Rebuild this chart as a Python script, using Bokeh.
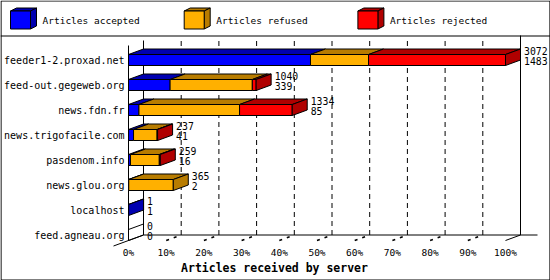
from bokeh.plotting import figure
from bokeh.models import Range1d, ColumnDataSource, LinearAxis, FixedTicker
from bokeh.core.properties import value
from bokeh.embed import file_html
from bokeh.resources import INLINE

# ---------------- data ----------------
servers = ["feeder1-2.proxad.net", "feed-out.gegeweb.org", "news.fdn.fr",
           "news.trigofacile.com", "pasdenom.info", "news.glou.org",
           "localhost", "feed.agneau.org"]
received = [3072, 1040, 1334, 237, 259, 365, 1, 0]
accepted = [1483, 339, 85, 41, 16, 2, 1, 0]
refused = [473, 670, 820, 192, 235, 363, 0, 0]
rejected = [1116, 31, 429, 4, 8, 0, 0, 0]
series_names = ["Articles accepted", "Articles refused", "Articles rejected"]
x_ticks = [0, 10, 20, 30, 40, 50, 60, 70, 80, 90, 100]
x_tick_labels = ["0%", "10%", "20%", "30%", "40%", "50%", "60%", "70%", "80%", "90%", "100%"]
x_title = "Articles received by server"

# ---------------- style ----------------
FACE = ["#0000FF", "#FFB000", "#FF0000"]
SHADE = ["#0000B0", "#B87C00", "#B00000"]
FONT = "DejaVu Sans Mono"
W, H = 550, 280
X0PX, PXPCT, Y0PX, ROWPX = 128.0, 3.77, 59.5, 25.0


def dxp(px):
    return px / PXPCT


def dyp(px):
    return px / ROWPX


def X(px):
    return (px - X0PX) / PXPCT


def Y(px):
    return (px - Y0PX) / ROWPX


DX = dxp(15)        # depth to the right
DY = -dyp(5.5)      # depth upward
HALF = dyp(5.5)     # half bar height
n = len(servers)
floor_front = (n - 1) + HALF
floor_back = floor_front + DY

p = figure(width=W, height=H, x_range=Range1d(X(0), X(W)), y_range=Range1d(Y(H), Y(0)),
           x_axis_location=None, y_axis_location=None, output_backend="svg",
           toolbar_location=None, min_border=0)
p.grid.visible = False
p.outline_line_color = None
p.background_fill_color = "white"
p.border_fill_color = "white"

# ---------------- axes (inside the frame) ----------------
xaxis = LinearAxis(ticker=FixedTicker(ticks=x_ticks),
                   major_label_overrides={t: s for t, s in zip(x_ticks, x_tick_labels)},
                   fixed_location=floor_front)
xaxis.axis_line_color = None
xaxis.major_tick_line_color = None
xaxis.minor_tick_line_color = None
xaxis.major_tick_in = 0
xaxis.major_tick_out = 0
xaxis.major_label_standoff = 6
xaxis.major_label_text_font = FONT
xaxis.major_label_text_font_size = "9.5px"
xaxis.major_label_text_color = "black"
p.add_layout(xaxis, "below")

yaxis = LinearAxis(ticker=FixedTicker(ticks=list(range(n))),
                   major_label_overrides={i: s for i, s in enumerate(servers)},
                   fixed_location=0)
yaxis.axis_line_color = None
yaxis.major_tick_line_color = None
yaxis.minor_tick_line_color = None
yaxis.major_tick_in = 0
yaxis.major_tick_out = 0
yaxis.major_label_standoff = 4
yaxis.major_label_text_font = FONT
yaxis.major_label_text_font_size = "10px"
yaxis.major_label_text_color = "black"
p.add_layout(yaxis, "left")

# ---------------- grid & frame lines ----------------
inner = x_ticks[1:-1]
p.segment(x0=[t + DX for t in inner], y0=[floor_back] * len(inner),
          x1=[t + DX for t in inner], y1=[Y(40)] * len(inner),
          line_color="black", line_width=1, line_dash="5 4")
# floor back line
p.segment(x0=[DX], y0=[floor_back], x1=[X(537)], y1=[floor_back], line_color="black", line_width=1)
# floor left diagonal
p.segment(x0=[-DX], y0=[floor_front - DY], x1=[DX], y1=[floor_back], line_color="black", line_width=1)
# tick diagonals
p.segment(x0=inner, y0=[floor_front] * len(inner), x1=[t + DX for t in inner],
          y1=[floor_back] * len(inner), line_color="black", line_width=1.5, line_dash="3 5")
p.segment(x0=[x_ticks[-1]], y0=[floor_front], x1=[x_ticks[-1] + DX], y1=[floor_back],
          line_color="black", line_width=1)
# vertical axis lines
p.segment(x0=[0, DX, x_ticks[-1] + DX], y0=[Y(45), Y(40), Y(35)],
          x1=[0, DX, x_ticks[-1] + DX], y1=[floor_front, floor_back, floor_back],
          line_color="black", line_width=1)

# ---------------- bars ----------------
vmax = max(received)
fr = dict(left=[], right=[], top=[], bottom=[], color=[])
tops = dict(xs=[], ys=[], color=[])
sides = dict(xs=[], ys=[], color=[], alpha=[])
for i in range(n):
    c = i
    yt, yb = c - HALF, c + HALF
    cum = 0.0
    last = None
    for k, vals in enumerate([accepted, refused, rejected]):
        w = vals[i] / vmax * 100
        if vals[i] <= 0:
            continue
        x0, x1 = cum, cum + w
        fr["left"].append(x0); fr["right"].append(x1)
        fr["top"].append(yt); fr["bottom"].append(yb); fr["color"].append(FACE[k])
        tops["xs"].append([x0, x1, x1 + DX, x0 + DX])
        tops["ys"].append([yt, yt, yt + DY, yt + DY])
        tops["color"].append(SHADE[k])
        cum = x1
        last = k
    xe = cum
    sides["xs"].append([xe, xe + DX, xe + DX, xe])
    sides["ys"].append([yt, yt + DY, yb + DY, yb])
    sides["color"].append(SHADE[last] if last is not None else "white")
    sides["alpha"].append(1.0 if last is not None else 0.0)

p.patches("xs", "ys", source=ColumnDataSource(tops), fill_color="color",
          line_color="black", line_width=1)
p.quad(left="left", right="right", top="top", bottom="bottom", source=ColumnDataSource(fr),
       fill_color="color", line_color="black", line_width=1)
p.patches("xs", "ys", source=ColumnDataSource(sides), fill_color="color", fill_alpha="alpha",
          line_color="black", line_width=1)

# value labels
lx, ly, lt = [], [], []
for i in range(n):
    xe = received[i] / vmax * 100 + DX + dxp(3.5)
    lx += [xe, xe]
    ly += [i - dyp(9.5), i + dyp(1.3)]
    lt += [str(received[i]), str(accepted[i])]
p.text(x=lx, y=ly, text=lt, text_font=value(FONT), text_font_size="9.8px",
       text_align="left", text_baseline="middle", text_color="black")

# axis title
p.text(x=[X(274)], y=[Y(267)], text=[x_title], text_font=value(FONT), text_font_size="11.5px",
       text_font_style="bold", text_align="center", text_baseline="middle", text_color="black")

# ---------------- legend (3D cubes) ----------------
lg_front, lg_top, lg_side, lg_tx, lg_ty = dict(left=[], right=[], top=[], bottom=[], color=[]), \
    dict(xs=[], ys=[], color=[]), dict(xs=[], ys=[], color=[]), [], []
for k in range(len(series_names)):
    l = 10 + 173.7 * k
    r = l + 20
    t, b = 10.5, 28.5
    lg_front["left"].append(X(l)); lg_front["right"].append(X(r))
    lg_front["top"].append(Y(t)); lg_front["bottom"].append(Y(b)); lg_front["color"].append(FACE[k])
    lg_top["xs"].append([X(l), X(r), X(r + 6), X(l + 6)])
    lg_top["ys"].append([Y(t), Y(t), Y(t - 3), Y(t - 3)])
    lg_top["color"].append(SHADE[k])
    lg_side["xs"].append([X(r), X(r + 6), X(r + 6), X(r)])
    lg_side["ys"].append([Y(t), Y(t - 3), Y(b - 3), Y(b)])
    lg_side["color"].append(SHADE[k])
    lg_tx.append(X(l + 32)); lg_ty.append(Y(20))
p.patches("xs", "ys", source=ColumnDataSource(lg_top), fill_color="color", line_color="black")
p.patches("xs", "ys", source=ColumnDataSource(lg_side), fill_color="color", line_color="black")
p.quad(left="left", right="right", top="top", bottom="bottom", source=ColumnDataSource(lg_front),
       fill_color="color", line_color="black")
p.text(x=lg_tx, y=lg_ty, text=series_names, text_font=value(FONT), text_font_size="9.5px",
       text_align="left", text_baseline="middle", text_color="black")

# separator and outer border
p.segment(x0=[X(0)], y0=[Y(35.5)], x1=[X(W)], y1=[Y(35.5)], line_color="black", line_width=1.2)
p.patch(x=[X(0.5), X(W - 0.5), X(W - 0.5), X(0.5)], y=[Y(0.5), Y(0.5), Y(H - 0.5), Y(H - 0.5)],
        fill_alpha=0, line_color="black", line_width=1.2)

open("out.html", "w").write(file_html(p, INLINE))
